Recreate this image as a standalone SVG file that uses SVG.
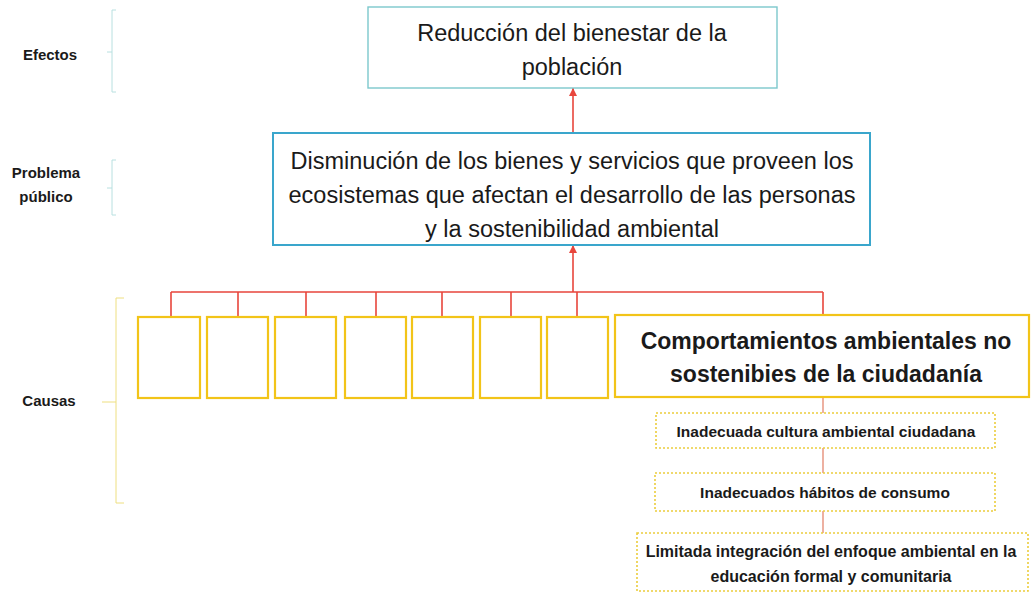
<svg xmlns="http://www.w3.org/2000/svg" width="1031" height="594" viewBox="0 0 1031 594">
<style>
text{font-family:"Liberation Sans",Arial,sans-serif;fill:#1a1a1a;text-anchor:middle}
.lbl{font-size:15px;font-weight:bold}
.sm{font-size:15.5px;font-weight:bold}
.big{font-size:23.5px}
.bb{font-size:23px;font-weight:bold}
.cause{fill:#fff;stroke:#f2c418;stroke-width:2.2}
.dot{fill:#fff;stroke:#eccd3c;stroke-width:1.6;stroke-dasharray:2 2}
.con{fill:none;stroke:#e8463c;stroke-width:1.6}
.con2{fill:none;stroke:#e6907a;stroke-width:1.4}
.br{fill:none;stroke-width:1}
</style>
<defs>
<marker id="ah" viewBox="0 0 10 10" refX="10" refY="5" markerWidth="5" markerHeight="5" orient="auto">
<path d="M0,0 L10,5 L0,10 z" fill="#e8463c"/>
</marker>
</defs>

<g id="labels">
<text class="lbl" x="50" y="60">Efectos</text>
<path class="br" stroke="#b8e0e0" d="M116,10 H112 V92 H116 M112,52 H107"/>
<text class="lbl" x="46" y="178">Problema</text>
<text class="lbl" x="46" y="202">público</text>
<path class="br" stroke="#b8e0e0" d="M116,160 H112 V215 H116 M112,188 H107"/>
<text class="lbl" x="49" y="406">Causas</text>
<path class="br" stroke="#eedf80" d="M124,298 H116 V503 H124 M116,402 H102"/>
</g>

<g id="connectors">
<path class="con" d="M573,133 V88" marker-end="url(#ah)"/>
<path class="con" d="M573,292 V245" marker-end="url(#ah)"/>
<path class="con" d="M171,292 H823 M171,292 V316 M238,292 V316 M306,292 V316 M376,292 V316 M442,292 V316 M511,292 V316 M577,292 V316 M823,292 V315"/>
<path class="con2" d="M823,397 V413 M823,448 V473 M823,511 V533"/>
</g>

<g id="efecto">
<rect x="368" y="7" width="409" height="81" fill="#fff" stroke="#7cc8cc" stroke-width="1.4"/>
<text class="big" x="572" y="41">Reducción del bienestar de la</text>
<text class="big" x="572" y="75">población</text>
</g>

<g id="problema">
<rect x="273" y="133" width="597" height="112" fill="#fff" stroke="#3aa6cc" stroke-width="2"/>
<text class="big" x="572" y="169">Disminución de los bienes y servicios que proveen los</text>
<text class="big" x="572" y="203">ecosistemas que afectan el desarrollo de las personas</text>
<text class="big" x="572" y="237">y la sostenibilidad ambiental</text>
</g>

<g id="causas">
<rect class="cause" x="138" y="317" width="62" height="81"/>
<rect class="cause" x="207" y="317" width="61" height="81"/>
<rect class="cause" x="275" y="317" width="61" height="81"/>
<rect class="cause" x="345" y="317" width="61" height="81"/>
<rect class="cause" x="412" y="317" width="61" height="81"/>
<rect class="cause" x="480" y="317" width="61" height="81"/>
<rect class="cause" x="547" y="317" width="61" height="81"/>
</g>

<g id="comportamientos">
<rect class="cause" x="615" y="315" width="414" height="82"/>
<text class="bb" x="826" y="349">Comportamientos ambientales no</text>
<text class="bb" x="826" y="382">sostenibies de la ciudadanía</text>
</g>

<g id="cultura">
<rect class="dot" x="656" y="413" width="339" height="35"/>
<text class="sm" x="826" y="437">Inadecuada cultura ambiental ciudadana</text>
</g>

<g id="habitos">
<rect class="dot" x="655" y="473" width="340" height="38"/>
<text class="sm" x="825" y="498">Inadecuados hábitos de consumo</text>
</g>

<g id="educacion">
<rect class="dot" x="637" y="533" width="391" height="58"/>
<text class="sm" x="831" y="557" style="font-size:16px">Limitada integración del enfoque ambiental en la</text>
<text class="sm" x="831" y="582" style="font-size:16px">educación formal y comunitaria</text>
</g>
</svg>
